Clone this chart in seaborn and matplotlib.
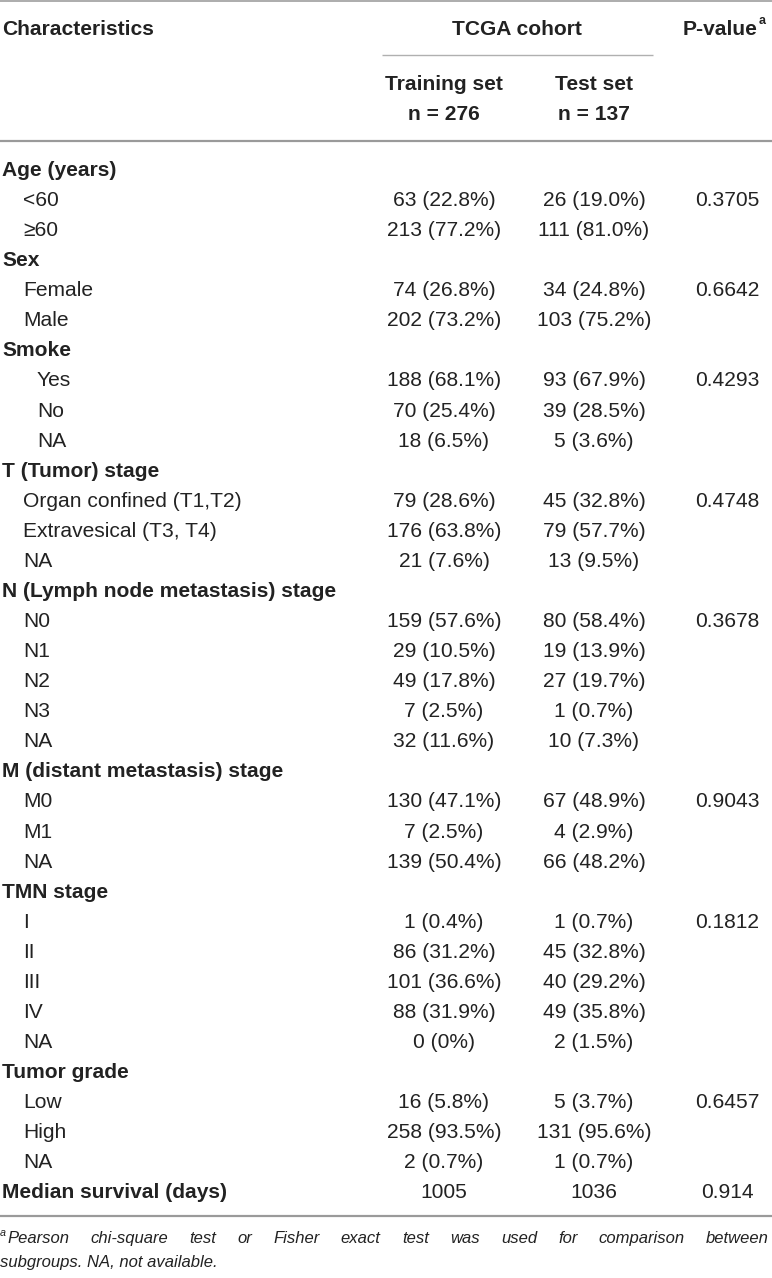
import matplotlib
matplotlib.use("Agg")
import matplotlib.pyplot as plt
import seaborn as sns

# Dados da tabela
row_labels = ["Age (years)", "<60", "≥60",
              "Sex", "Female", "Male",
              "Smoke", "Yes", "No", "NA",
              "T (Tumor) stage", "Organ confined (T1,T2)", "Extravesical (T3, T4)", "NA",
              "N (Lymph node metastasis) stage", "N0", "N1", "N2", "N3", "NA",
              "M (distant metastasis) stage", "M0", "M1", "NA",
              "TMN stage", "I", "II", "III", "IV", "NA",
              "Tumor grade", "Low", "High", "NA",
              "Median survival (days)"]
row_levels = [0, 1, 1,
              0, 1, 1,
              0, 2, 2, 2,
              0, 1, 1, 1,
              0, 1, 1, 1, 1, 1,
              0, 1, 1, 1,
              0, 1, 1, 1, 1, 1,
              0, 1, 1, 1,
              0]
train_set = ["", "63 (22.8%)", "213 (77.2%)",
             "", "74 (26.8%)", "202 (73.2%)",
             "", "188 (68.1%)", "70 (25.4%)", "18 (6.5%)",
             "", "79 (28.6%)", "176 (63.8%)", "21 (7.6%)",
             "", "159 (57.6%)", "29 (10.5%)", "49 (17.8%)", "7 (2.5%)", "32 (11.6%)",
             "", "130 (47.1%)", "7 (2.5%)", "139 (50.4%)",
             "", "1 (0.4%)", "86 (31.2%)", "101 (36.6%)", "88 (31.9%)", "0 (0%)",
             "", "16 (5.8%)", "258 (93.5%)", "2 (0.7%)",
             "1005"]
test_set = ["", "26 (19.0%)", "111 (81.0%)",
            "", "34 (24.8%)", "103 (75.2%)",
            "", "93 (67.9%)", "39 (28.5%)", "5 (3.6%)",
            "", "45 (32.8%)", "79 (57.7%)", "13 (9.5%)",
            "", "80 (58.4%)", "19 (13.9%)", "27 (19.7%)", "1 (0.7%)", "10 (7.3%)",
            "", "67 (48.9%)", "4 (2.9%)", "66 (48.2%)",
            "", "1 (0.7%)", "45 (32.8%)", "40 (29.2%)", "49 (35.8%)", "2 (1.5%)",
            "", "5 (3.7%)", "131 (95.6%)", "1 (0.7%)",
            "1036"]
p_values = ["", "0.3705", "",
            "", "0.6642", "",
            "", "0.4293", "", "",
            "", "0.4748", "", "",
            "", "0.3678", "", "", "", "",
            "", "0.9043", "", "",
            "", "0.1812", "", "", "", "",
            "", "0.6457", "", "",
            "0.914"]
footnote_1 = "Pearson chi-square test or Fisher exact test was used for comparison between"
footnote_2 = "subgroups. NA, not available."

sns.set_theme(style="white")
plt.rcParams['font.family'] = ['Liberation Sans', 'DejaVu Sans']

W, H = 772, 1278
fig = plt.figure(figsize=(W / 100, H / 100), dpi=100)
ax = fig.add_axes([0, 0, 1, 1])
ax.set_xlim(0, W)
ax.set_ylim(H, 0)
ax.axis('off')

px = 72 / 100  # pixels -> pontos
fs = 21 * px
fs_note = 16.6 * px
txt = '#222222'
rule = '#9a9a9a'

x_train, x_test, x_p = 444, 594, 727
indent = {0: 2, 1: 23, 2: 37}

# Cabeçalho
ax.text(2, 35, "Characteristics", fontsize=fs, fontweight='bold', color=txt)
ax.text(517, 35, "TCGA cohort", fontsize=fs, fontweight='bold', color=txt, ha='center')
pv = ax.text(683, 35, "P-value", fontsize=fs, fontweight='bold', color=txt)
ax.text(x_train, 90, "Training set", fontsize=fs, fontweight='bold', color=txt, ha='center')
ax.text(x_test, 90, "Test set", fontsize=fs, fontweight='bold', color=txt, ha='center')
ax.text(x_train, 120, "n = 276", fontsize=fs, fontweight='bold', color=txt, ha='center')
ax.text(x_test, 120, "n = 137", fontsize=fs, fontweight='bold', color=txt, ha='center')

ax.axhline(0.8, color=rule, lw=1.6 * px)
ax.hlines(55, 382, 653, color='#b0b0b0', lw=1.4 * px)
ax.axhline(140.5, color=rule, lw=2.2 * px)
ax.axhline(1216, color=rule, lw=2.2 * px)

# Linhas do corpo
y0, dy = 176, 30.07
for i, lab in enumerate(row_labels):
    y = y0 + i * dy
    lvl = row_levels[i]
    ax.text(indent[lvl], y, lab, fontsize=fs, color=txt,
            fontweight='bold' if lvl == 0 else 'normal')
    ax.text(x_train, y, train_set[i], fontsize=fs, color=txt, ha='center')
    ax.text(x_test, y, test_set[i], fontsize=fs, color=txt, ha='center')
    ax.text(x_p, y, p_values[i], fontsize=fs, color=txt, ha='center')

# Nota de rodapé
fig.canvas.draw()
rend = fig.canvas.get_renderer()
pv_end = pv.get_window_extent(rend).x1
ax.text(pv_end + 1, 24, "a", fontsize=fs * 0.6, fontweight='bold', color=txt)

ax.text(0, 1236, "a", fontsize=fs_note * 0.65, style='italic', color=txt)
words = footnote_1.split(" ")
objs = [ax.text(0, 1243, w, fontsize=fs_note, style='italic', color=txt) for w in words]
fig.canvas.draw()
widths = [o.get_window_extent(rend).width for o in objs]
left, right = 7, 769
gap = (right - left - sum(widths)) / (len(words) - 1)
x = left
for o, w in zip(objs, widths):
    o.set_x(x)
    x += w + gap
ax.text(0, 1267, footnote_2, fontsize=fs_note, style='italic', color=txt)

fig.savefig('out.png', dpi=100)
